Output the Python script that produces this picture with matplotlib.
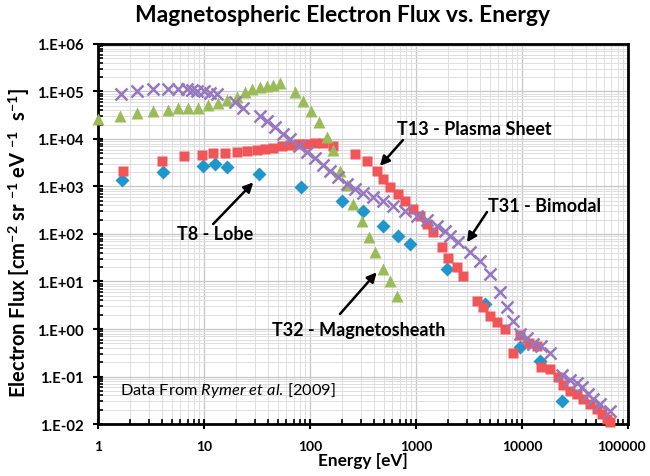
import numpy as np
import matplotlib
matplotlib.use('Agg')
import matplotlib.pyplot as plt
from matplotlib.ticker import LogLocator, FuncFormatter, NullFormatter
from matplotlib.transforms import ScaledTranslation

plt.rcParams['font.family'] = ['Lato', 'DejaVu Sans']
plt.rcParams['font.weight'] = 'bold'
plt.rcParams['mathtext.fontset'] = 'custom'
plt.rcParams['mathtext.rm'] = 'Lato:weight=normal'
plt.rcParams['mathtext.it'] = 'Lato:style=italic:weight=normal'
plt.rcParams['mathtext.bf'] = 'Lato:weight=bold'

# T8 - Lobe (blue diamonds)
t8_energy = [1.70, 4.13, 9.7, 12.7, 16.6, 33.2, 83, 200, 318, 492, 681, 877,
             1950, 4480, 9570, 14800, 23700]
t8_flux = [1.37e3, 1.99e3, 2.74e3, 2.98e3, 2.61e3, 1.83e3, 990, 495, 305, 150, 92, 61.5,
           18.3, 3.36, 0.42, 0.215, 0.031]

# T13 - Plasma Sheet (red squares)
t13_energy = [1.71, 4.0, 6.5, 9.5, 12.2, 15.8, 20.3, 25.3, 31.4, 37.6, 45, 54, 65, 78, 93,
              111, 133, 166, 266, 343, 426, 492, 569, 681, 787, 944, 1090, 1260, 1460,
              1746, 2017, 2420, 2800, 3740, 4320, 4990, 5770, 6920, 8280, 9570, 11600,
              13900, 15300, 18400, 22000, 24500, 28400, 32800, 37900, 43800, 50700,
              56500, 63000, 67600]
t13_flux = [2.15e3, 3.49e3, 4.33e3, 4.6e3, 5.07e3, 5.07e3, 5.4e3, 5.67e3, 5.96e3, 6.16e3,
            6.57e3, 7.0e3, 7.5e3, 7.7e3, 8.0e3, 8.2e3, 8.2e3, 7.1e3, 4.8e3, 3.39e3, 2.15e3,
            1.44e3, 962, 695, 500, 336, 243, 162, 109, 52, 32, 20, 13.2, 3.95, 2.86, 1.9,
            1.38, 1.0, 0.32, 0.75, 0.51, 0.44, 0.156, 0.144, 0.096, 0.065, 0.050, 0.043,
            0.034, 0.026, 0.021, 0.016, 0.0127, 0.011]

# T31 - Bimodal (purple crosses)
t31_energy = [1.64, 2.32, 3.32, 4.6, 5.7, 6.9, 7.7, 8.5, 9.9, 11.4, 13.2, 19.6, 23.5, 33.7,
              39, 46.7, 56, 65, 78, 93, 111, 133, 155, 185, 222, 266, 318, 396, 492, 611,
              787, 1014, 1260, 1567, 1880, 2094, 2508, 3230, 4015, 4990, 6200, 7160, 8280,
              9570, 11100, 12800, 15300, 18400, 23700, 28400, 32800, 36600, 42200, 47100,
              55000, 67600]
t31_flux = [8.9e4, 1.01e5, 1.13e5, 1.13e5, 1.13e5, 1.13e5, 1.1e5, 1.04e5, 1.0e5, 9.1e4,
            8.9e4, 5.9e4, 4.6e4, 3.1e4, 2.4e4, 1.76e4, 1.27e4, 1.0e4, 7.2e3, 5.25e3, 3.9e3,
            2.84e3, 2.15e3, 1.56e3, 1.13e3, 885, 730, 615, 502, 394, 309, 243, 197, 147,
            117, 92, 67, 41, 27.4, 14.4, 5.9, 2.85, 1.44, 0.785, 0.65, 0.48, 0.44, 0.32,
            0.11, 0.085, 0.074, 0.06, 0.043, 0.034, 0.026, 0.019]

# T32 - Magnetosheath (green triangles)
t32_energy = [1.0, 1.61, 2.32, 3.32, 4.6, 5.7, 7.1, 8.8, 11, 13.6, 16.4, 20.3, 24.4, 28.2,
              33.7, 39, 45, 52, 72, 86.5, 101.5, 122, 144, 166, 192, 222, 256, 307, 359,
              410, 492, 569, 658]
t32_flux = [2.6e4, 3.1e4, 3.5e4, 3.9e4, 4.1e4, 4.4e4, 4.6e4, 4.6e4, 5.3e4, 5.7e4, 6.6e4,
            7.5e4, 9.6e4, 1.13e5, 1.22e5, 1.32e5, 1.39e5, 1.48e5, 9.8e4, 6.4e4, 3.95e4,
            2.25e4, 1.08e4, 5.9e3, 2.15e3, 1.05e3, 429, 192, 85, 41, 18.3, 10.4, 5.0]

fig = plt.figure(figsize=(6.5, 4.77), dpi=100)
ax = fig.add_axes([0.1508, 0.109, 0.8152, 0.7967])

ax.plot(t8_energy, t8_flux, 'D', color='#1f96cc', ms=7.5, mec='none', clip_on=False, zorder=3)
ax.plot(t13_energy, t13_flux, 's', color='#f05558', ms=7.5, mec='none', clip_on=False, zorder=4)
ax.plot(t32_energy, t32_flux, '^', color='#9bbb59', ms=9, mec='none', clip_on=False, zorder=5)
ax.plot(t31_energy, t31_flux, 'x', color='#9678be', ms=8.5, mew=1.8, clip_on=False, zorder=6)

ax.set_xscale('log')
ax.set_yscale('log')
ax.set_xlim(1, 1e5)
ax.set_ylim(1e-2, 1e6)

ax.xaxis.set_major_locator(LogLocator(base=10, numticks=10))
ax.xaxis.set_minor_locator(LogLocator(base=10, subs=np.arange(2, 10), numticks=10))
ax.yaxis.set_major_locator(LogLocator(base=10, numticks=10))
ax.yaxis.set_minor_locator(LogLocator(base=10, subs=np.arange(2, 10), numticks=12))
ax.xaxis.set_major_formatter(FuncFormatter(lambda v, p: f"{int(round(v))}"))
ax.yaxis.set_major_formatter(FuncFormatter(lambda v, p: f"1.E{int(round(np.log10(v))):+03d}"))
ax.xaxis.set_minor_formatter(NullFormatter())
ax.yaxis.set_minor_formatter(NullFormatter())

ax.tick_params(which='major', direction='inout', length=7, width=1.5, labelsize=10.7, pad=7)
ax.tick_params(which='minor', direction='in', length=3.5, width=1.2)
ax.tick_params(axis='x', which='major', pad=8, labelsize=10)
ax.tick_params(top=False, right=False)

ax.grid(which='major', color='#c6c6c6', lw=0.9)
ax.grid(which='minor', color='#dedede', lw=0.7)
ax.set_axisbelow(True)
for s in ax.spines.values():
    s.set_linewidth(2)

ax.set_xlabel('Energy [eV]', fontsize=12.4, fontweight='bold', labelpad=0)
ax.set_ylabel(r'Electron Flux [cm$^{\mathbf{-2}}$ sr $^{\mathbf{-1}}$ eV $^{\mathbf{-1}}$  s$^{\mathbf{-1}}$]',
              fontsize=14.5, fontweight='bold')
ax.yaxis.set_label_coords(-0.125, 0.478)
fig.suptitle('Magnetospheric Electron Flux vs. Energy', x=0.527, y=0.99,
             fontsize=16.5, fontweight='bold')

arrow = dict(arrowstyle='-|>', color='black', lw=1.8, mutation_scale=14, shrinkA=0, shrinkB=0)

ax.text(662, 1.63e4, 'T13 - Plasma Sheet', fontsize=13, fontweight='bold', va='center')
ax.annotate('', xy=(457, 2.7e3), xytext=(754, 9.5e3), arrowprops=arrow)

ax.text(4780, 407, 'T31 - Bimodal', fontsize=13, fontweight='bold', va='center')
ax.annotate('', xy=(3030, 67), xytext=(4680, 290), arrowprops=arrow)

ax.text(5.56, 100, 'T8 - Lobe', fontsize=13, fontweight='bold', va='center')
ax.annotate('', xy=(29.2, 1.22e3), xytext=(12.2, 162), arrowprops=arrow)

ax.text(43.8, 1.0, 'T32 - Magnetosheath', fontsize=13, fontweight='bold', va='center')
ax.annotate('', xy=(426, 15.6), xytext=(192, 2.07), arrowprops=arrow)

ax.text(1.61, 0.052, r'Data From $\mathit{Rymer\ et\ al}$. [2009]', fontsize=11.8,
        fontweight='normal', va='center')

# pull the "100000" tick label a few pixels in so it stays inside the figure
fig.canvas.draw()
for tick in ax.xaxis.get_major_ticks():
    if np.isclose(tick.get_loc(), 1e5):
        lab = tick.label1
        lab.set_transform(lab.get_transform() + ScaledTranslation(-5 / 72, 0, fig.dpi_scale_trans))

fig.savefig('out.png', dpi=100)
